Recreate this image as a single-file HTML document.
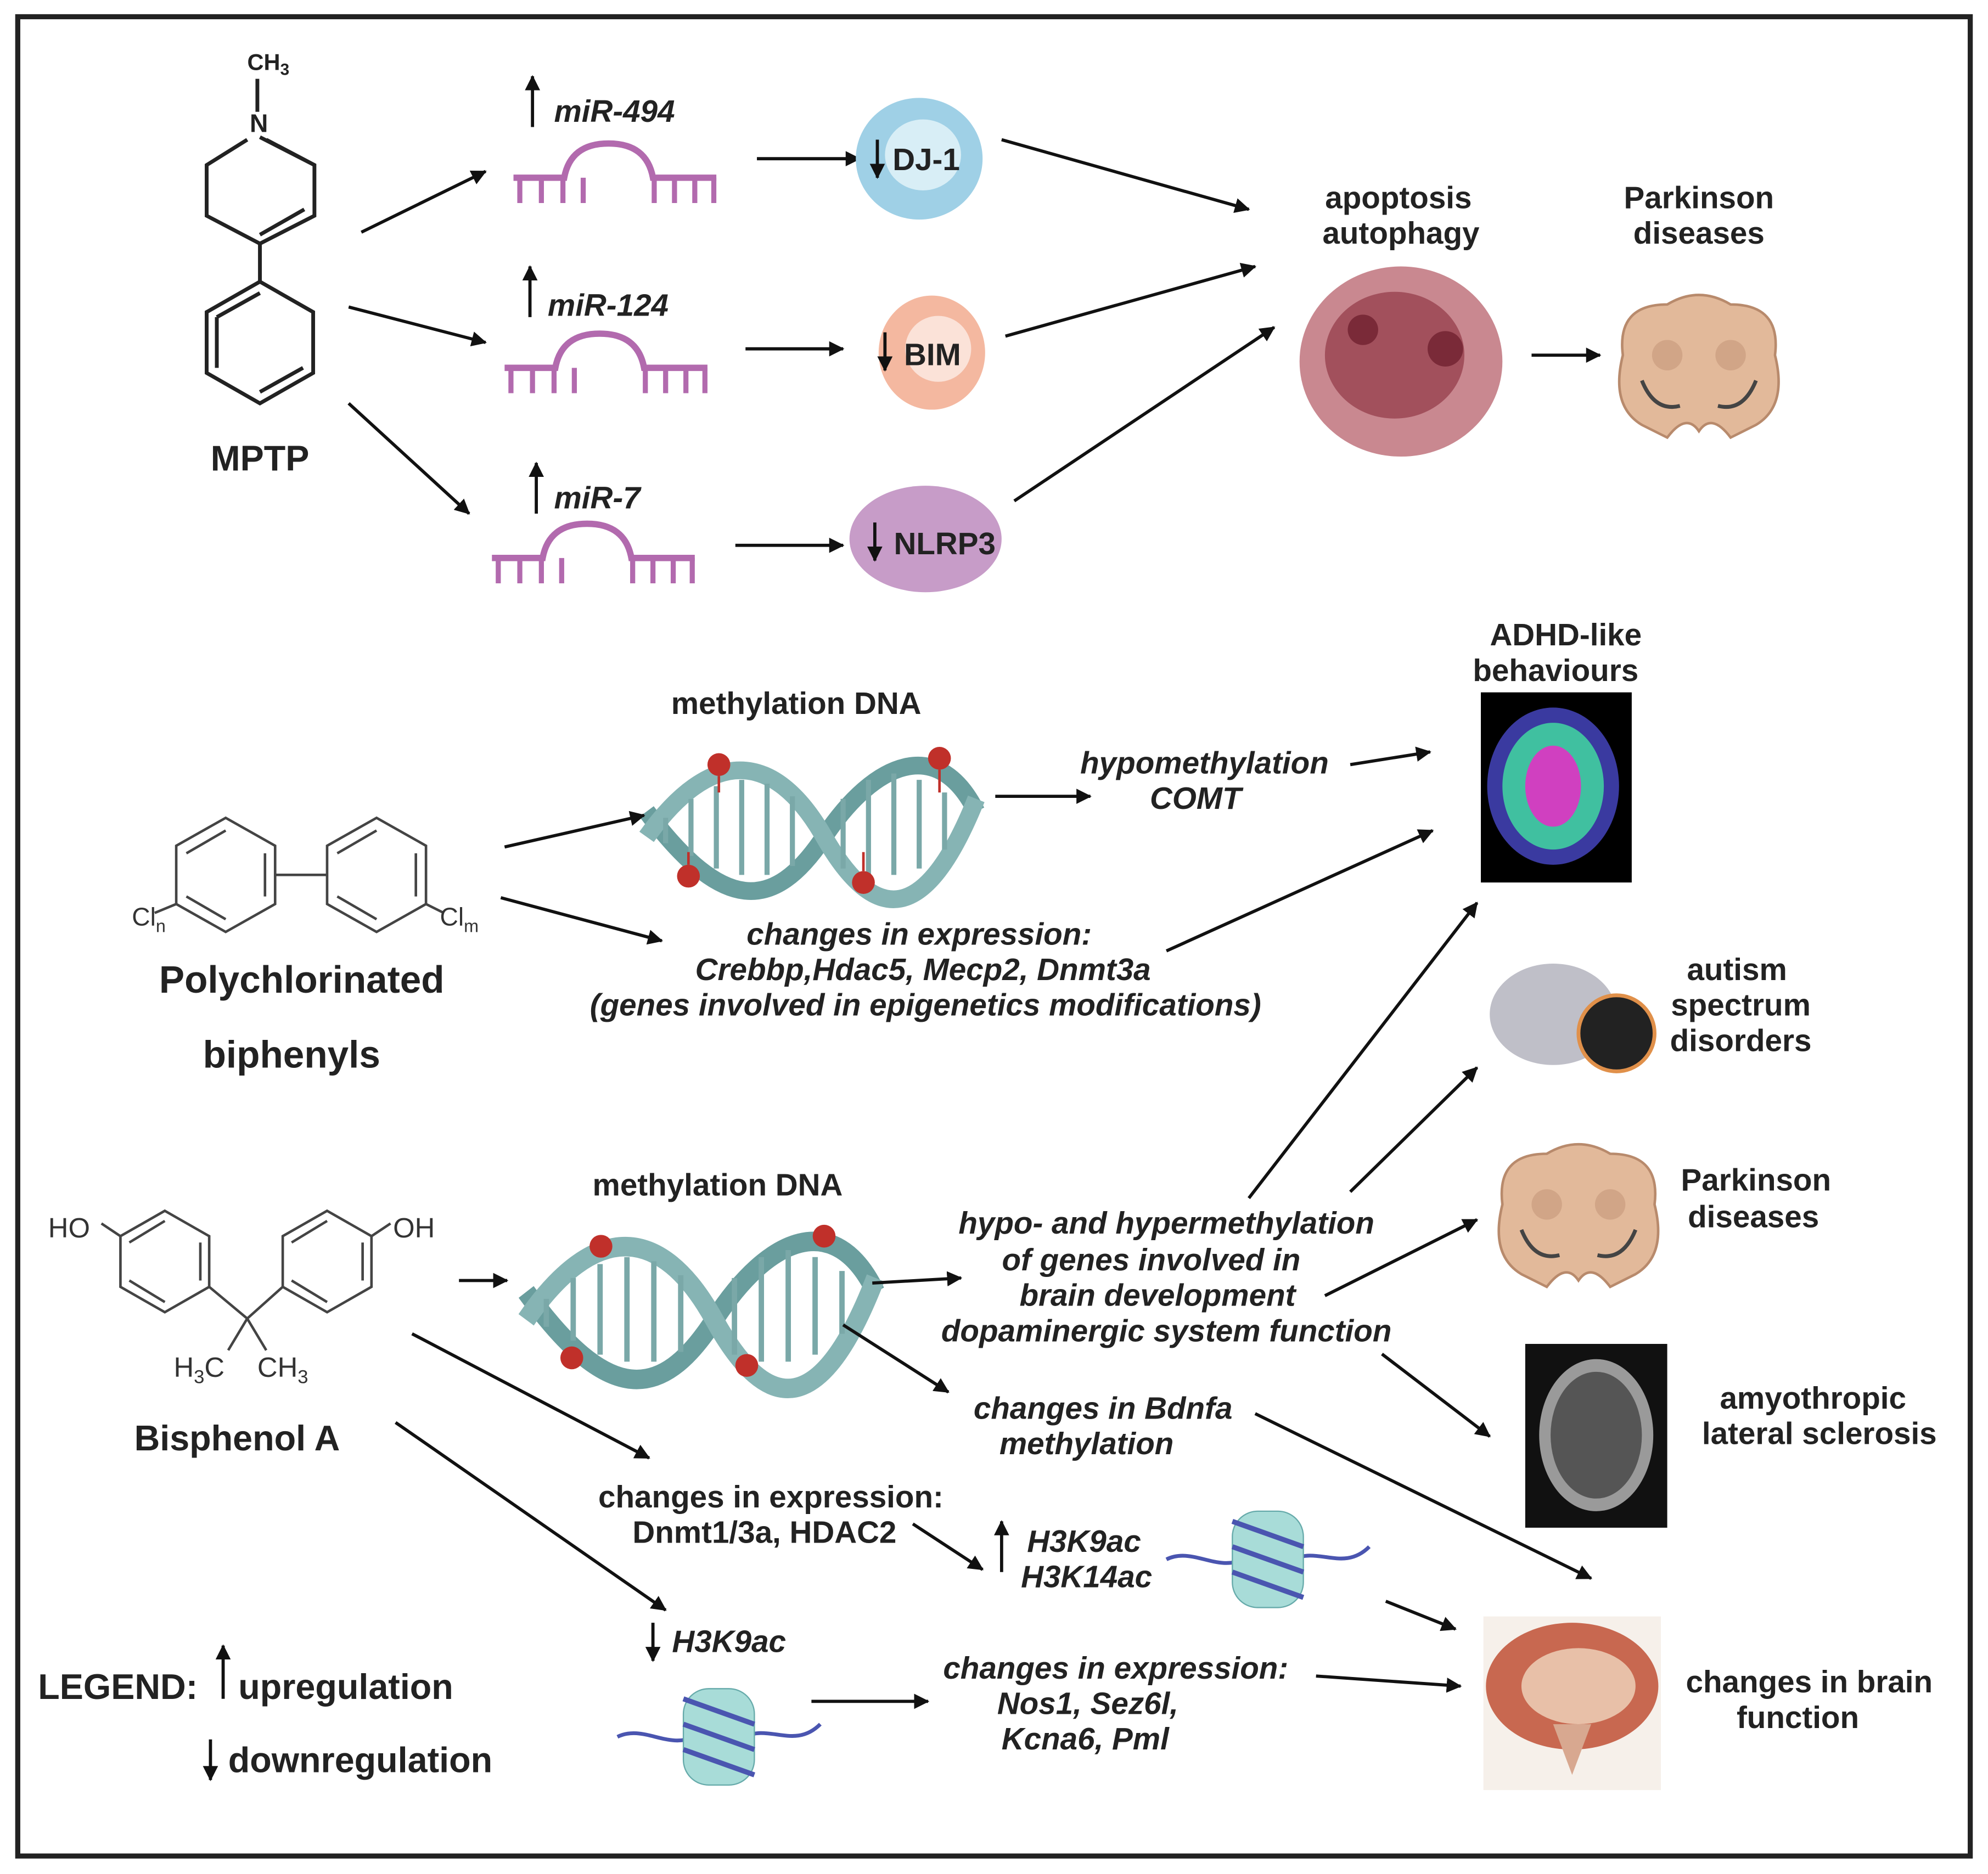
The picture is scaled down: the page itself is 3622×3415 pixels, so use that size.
<!DOCTYPE html>
<html><head><meta charset="utf-8"><style>
html,body{margin:0;padding:0;background:#fff}
svg{display:block}
text{font-family:"Liberation Sans",Arial,sans-serif;font-weight:bold;fill:#222}
.b{font-size:24.5px}.i{font-style:italic}
.big{font-size:28px}
</style></head><body>
<svg width="3622" height="3415" viewBox="0 0 1568 1478" xmlns="http://www.w3.org/2000/svg">
<defs>
<marker id="ah" markerWidth="12" markerHeight="12" refX="11" refY="6" orient="auto" markerUnits="userSpaceOnUse" viewBox="0 0 12 12">
<path d="M0,0 L12,6 L0,12 z" fill="#111"/></marker>
<g id="mir" stroke="#b26aae" fill="none" stroke-width="5">
<path d="M0,27 H40 Q45,0 75,0 Q105,0 110,27 H160"/>
<path d="M5,27v20M22,27v20M39,27v20M55,27v20M111,27v20M127,27v20M143,27v20M158,27v20" stroke-width="4"/>
</g>
<g id="dna">
<path d="M0,40 C60,120 100,120 140,60 S230,-20 260,40" stroke="#6a9e9e" stroke-width="14" fill="none"/>
<path d="M0,60 C50,-10 100,-10 140,60 S220,130 260,30" stroke="#86b4b4" stroke-width="14" fill="none"/>
<path d="M15,45v20M35,30v45M55,20v65M75,15v75M95,18v72M115,28v55M155,30v55M175,15v75M195,10v80M215,15v70M235,25v45" stroke="#7aa8a8" stroke-width="4"/>
</g>
<g id="stem">
<path d="M-60,-10 Q-65,-50 -25,-50 Q0,-65 25,-50 Q65,-50 60,-10 Q70,30 45,45 L25,55 Q10,35 0,50 Q-10,35 -25,55 L-45,45 Q-70,30 -60,-10z" fill="#e2b99a" stroke="#b88a6c" stroke-width="2"/>
<circle cx="-25" cy="-10" r="12" fill="#d1a587"/><circle cx="25" cy="-10" r="12" fill="#d1a587"/>
<path d="M-45,10 Q-35,35 -15,30 M45,10 Q35,35 15,30" stroke="#444" stroke-width="3" fill="none"/>
</g>
<g id="nuc">
<path d="M-80,0 C-60,-10 -40,10 -20,0 M20,0 C40,-10 60,10 80,-10" stroke="#4a55b0" stroke-width="3" fill="none"/>
<rect x="-28" y="-38" width="56" height="76" rx="20" fill="#a8dcd8" stroke="#6aa" />
<path d="M-28,-30 L28,-10 M-28,-10 L28,10 M-28,10 L28,30" stroke="#4a55b0" stroke-width="4"/>
</g>
</defs>
<rect x="14" y="13" width="1540" height="1451" fill="none" stroke="#222" stroke-width="4"/>

<!-- MPTP -->
<g stroke="#222" stroke-width="3" fill="none">
<path d="M203,62V88 M205,108 L248,130 L248,170 L205,192 L163,170 L163,130 L195,110 M210,110 L248,130 M240,165 L205,185"/>
<path d="M205,192V222 M205,222 L247,246 L247,294 L205,318 L163,294 L163,246 Z M171,250 L205,231 M239,290 L205,309 M171,290 L171,250"/>
</g>
<text x="195" y="55" style="font-size:18px">CH<tspan font-size="13" dy="4">3</tspan></text>
<text x="197" y="104" style="font-size:20px">N</text>
<text x="205" y="371" class="big" text-anchor="middle">MPTP</text>
<g stroke="#111" stroke-width="2.5" marker-end="url(#ah)">
<line x1="285" y1="183" x2="383" y2="135"/><line x1="275" y1="242" x2="383" y2="270"/><line x1="275" y1="318" x2="370" y2="405"/>
<line x1="597" y1="125" x2="678" y2="125"/><line x1="588" y1="275" x2="665" y2="275"/><line x1="580" y1="430" x2="665" y2="430"/>
<line x1="790" y1="110" x2="985" y2="165"/><line x1="793" y1="265" x2="990" y2="210"/><line x1="800" y1="395" x2="1005" y2="258"/>
<line x1="1208" y1="280" x2="1262" y2="280"/>
<line x1="420" y1="100" x2="420" y2="60"/><line x1="418" y1="250" x2="418" y2="210"/><line x1="423" y1="405" x2="423" y2="365"/>
</g>
<text x="437" y="96" class="b i">miR-494</text>
<text x="432" y="249" class="b i">miR-124</text>
<text x="437" y="401" class="b i">miR-7</text>
<use href="#mir" x="405" y="113"/><use href="#mir" x="398" y="263"/><use href="#mir" x="388" y="413"/>
<ellipse cx="725" cy="125" rx="50" ry="48" fill="#9fd0e6"/><ellipse cx="728" cy="122" rx="30" ry="28" fill="#d8eef6"/>
<ellipse cx="735" cy="278" rx="42" ry="45" fill="#f4b8a0"/><ellipse cx="740" cy="275" rx="26" ry="26" fill="#fbe2d8"/>
<ellipse cx="730" cy="425" rx="60" ry="42" fill="#c79cc8"/>
<g stroke="#111" stroke-width="2.5" marker-end="url(#ah)">
<line x1="692" y1="110" x2="692" y2="140"/><line x1="698" y1="262" x2="698" y2="292"/><line x1="690" y1="412" x2="690" y2="442"/></g>
<text x="704" y="134" class="b">DJ-1</text><text x="713" y="288" class="b">BIM</text><text x="705" y="437" class="b">NLRP3</text>
<text x="1103" y="164" class="b" text-anchor="middle">apoptosis</text><text x="1105" y="192" class="b" text-anchor="middle">autophagy</text>
<ellipse cx="1105" cy="285" rx="80" ry="75" fill="#c98890"/><ellipse cx="1100" cy="280" rx="55" ry="50" fill="#a2505c"/>
<circle cx="1075" cy="260" r="12" fill="#7a2a38"/><circle cx="1140" cy="275" r="14" fill="#7a2a38"/>
<text x="1340" y="164" class="b" text-anchor="middle">Parkinson</text><text x="1340" y="192" class="b" text-anchor="middle">diseases</text>
<use href="#stem" x="1340" y="290"/>

<!-- PCB -->
<text x="628" y="563" class="b" text-anchor="middle">methylation DNA</text>
<use href="#dna" x="510" y="600"/>
<g fill="#c0302a"><circle cx="567" cy="603" r="9"/><circle cx="741" cy="598" r="9"/><circle cx="543" cy="691" r="9"/><circle cx="681" cy="696" r="9"/></g>
<g stroke="#c0302a" stroke-width="2"><line x1="567" y1="612" x2="567" y2="625"/><line x1="741" y1="607" x2="741" y2="625"/><line x1="543" y1="682" x2="543" y2="672"/><line x1="681" y1="687" x2="681" y2="672"/></g>
<g stroke="#444" stroke-width="2" fill="none">
<path d="M178,645 L217,667 L217,713 L178,735 L139,713 L139,667 Z M297,645 L336,667 L336,713 L297,735 L258,713 L258,667 Z M217,690 H258"/>
<path d="M147,673 L178,655 M147,707 L178,725 M209,707 L209,673 M266,673 L297,655 M266,707 L297,725 M328,707 L328,673"/>
<path d="M139,713 L122,720 M336,713 L350,720"/>
</g>
<text x="104" y="730" style="font-size:20px;font-weight:normal;fill:#333">Cl<tspan font-size="14" dy="5">n</tspan></text>
<text x="347" y="730" style="font-size:20px;font-weight:normal;fill:#333">Cl<tspan font-size="14" dy="5">m</tspan></text>
<text x="238" y="783" class="big" text-anchor="middle" style="font-size:30px">Polychlorinated</text>
<text x="230" y="842" class="big" text-anchor="middle" style="font-size:30px">biphenyls</text>
<g stroke="#111" stroke-width="2.5" marker-end="url(#ah)">
<line x1="398" y1="668" x2="508" y2="643"/><line x1="395" y1="708" x2="522" y2="742"/>
<line x1="785" y1="628" x2="860" y2="628"/><line x1="1065" y1="603" x2="1128" y2="593"/><line x1="920" y1="750" x2="1130" y2="655"/>
</g>
<text x="950" y="610" class="b i" text-anchor="middle">hypomethylation</text><text x="943" y="638" class="b i" text-anchor="middle">COMT</text>
<text x="725" y="745" class="b i" text-anchor="middle">changes in expression:</text>
<text x="728" y="773" class="b i" text-anchor="middle">Crebbp,Hdac5, Mecp2, Dnmt3a</text>
<text x="730" y="801" class="b i" text-anchor="middle">(genes involved in epigenetics modifications)</text>
<text x="1235" y="509" class="b" text-anchor="middle">ADHD-like</text><text x="1227" y="537" class="b" text-anchor="middle">behaviours</text>
<rect x="1168" y="546" width="119" height="150" fill="#000"/>
<ellipse cx="1225" cy="620" rx="52" ry="62" fill="#3a3aa0"/><ellipse cx="1225" cy="620" rx="40" ry="50" fill="#40c0a0"/><ellipse cx="1225" cy="620" rx="22" ry="32" fill="#d040c0"/>
<ellipse cx="1225" cy="800" rx="50" ry="40" fill="#bfbfc8"/><circle cx="1275" cy="815" r="30" fill="#222" stroke="#e0904a" stroke-width="3"/>
<text x="1370" y="773" class="b" text-anchor="middle">autism</text><text x="1373" y="801" class="b" text-anchor="middle">spectrum</text><text x="1373" y="829" class="b" text-anchor="middle">disorders</text>
<text x="1385" y="939" class="b" text-anchor="middle">Parkinson</text><text x="1383" y="968" class="b" text-anchor="middle">diseases</text>
<use href="#stem" x="1245" y="960"/>
<rect x="1203" y="1060" width="112" height="145" fill="#111"/>
<ellipse cx="1259" cy="1132" rx="45" ry="60" fill="#9a9a9a"/><ellipse cx="1259" cy="1132" rx="36" ry="50" fill="#555"/>
<text x="1430" y="1111" class="b" text-anchor="middle">amyothropic</text><text x="1435" y="1139" class="b" text-anchor="middle">lateral sclerosis</text>
<rect x="1170" y="1275" width="140" height="137" fill="#f6f0ea"/>
<ellipse cx="1240" cy="1330" rx="68" ry="50" fill="#c86850"/><ellipse cx="1245" cy="1330" rx="45" ry="30" fill="#e8c0a8"/>
<path d="M1225,1360 L1240,1400 L1255,1360z" fill="#d8a890"/>
<text x="1427" y="1335" class="b" text-anchor="middle">changes in brain</text><text x="1418" y="1363" class="b" text-anchor="middle">function</text>

<!-- BPA -->
<g stroke="#444" stroke-width="2" fill="none">
<path d="M130,955 L165,975 L165,1015 L130,1035 L95,1015 L95,975 Z M258,955 L293,975 L293,1015 L258,1035 L223,1015 L223,975 Z"/>
<path d="M102,980 L130,963 M102,1010 L130,1027 M158,1010 L158,980 M230,980 L258,963 M230,1010 L258,1027 M286,1010 L286,980"/>
<path d="M80,965 L95,975 M293,975 L308,965 M165,1015 L195,1040 L223,1015 M195,1040 L180,1065 M195,1040 L210,1065"/>
</g>
<text x="38" y="976" style="font-size:22px;font-weight:normal;fill:#333">HO</text>
<text x="310" y="976" style="font-size:22px;font-weight:normal;fill:#333">OH</text>
<text x="137" y="1086" style="font-size:22px;font-weight:normal;fill:#333">H<tspan font-size="15" dy="5">3</tspan><tspan dy="-5">C</tspan></text>
<text x="203" y="1086" style="font-size:22px;font-weight:normal;fill:#333">CH<tspan font-size="15" dy="5">3</tspan></text>
<text x="187" y="1144" class="big" text-anchor="middle">Bisphenol A</text>
<text x="566" y="943" class="b" text-anchor="middle">methylation DNA</text>
<use href="#dna" x="415" y="975" transform="translate(415,975) scale(1.06,1.1) translate(-415,-975)"/>
<g fill="#c0302a"><circle cx="474" cy="983" r="9"/><circle cx="650" cy="975" r="9"/><circle cx="451" cy="1071" r="9"/><circle cx="589" cy="1077" r="9"/></g>
<g stroke="#111" stroke-width="2.5" marker-end="url(#ah)">
<line x1="362" y1="1010" x2="400" y2="1010"/><line x1="688" y1="1012" x2="758" y2="1008"/>
<line x1="985" y1="945" x2="1165" y2="712"/><line x1="1065" y1="940" x2="1165" y2="842"/><line x1="1045" y1="1022" x2="1165" y2="962"/><line x1="1090" y1="1068" x2="1175" y2="1133"/>
<line x1="665" y1="1045" x2="748" y2="1098"/><line x1="990" y1="1115" x2="1255" y2="1245"/>
<line x1="325" y1="1052" x2="512" y2="1150"/><line x1="720" y1="1202" x2="775" y2="1238"/>
<line x1="1093" y1="1263" x2="1148" y2="1285"/><line x1="312" y1="1122" x2="525" y2="1270"/>
<line x1="640" y1="1342" x2="732" y2="1342"/><line x1="1038" y1="1322" x2="1152" y2="1330"/>
<line x1="790" y1="1240" x2="790" y2="1200"/><line x1="515" y1="1280" x2="515" y2="1310"/>
<line x1="176" y1="1340" x2="176" y2="1298"/><line x1="166" y1="1372" x2="166" y2="1404"/>
</g>
<text x="920" y="973" class="b i" text-anchor="middle">hypo- and hypermethylation</text>
<text x="908" y="1002" class="b i" text-anchor="middle">of genes involved in</text>
<text x="913" y="1030" class="b i" text-anchor="middle">brain development</text>
<text x="920" y="1058" class="b i" text-anchor="middle">dopaminergic system function</text>
<text x="870" y="1119" class="b i" text-anchor="middle">changes in Bdnfa</text><text x="857" y="1147" class="b i" text-anchor="middle">methylation</text>
<text x="608" y="1189" class="b" text-anchor="middle">changes in expression:</text><text x="603" y="1217" class="b" text-anchor="middle">Dnmt1/3a, HDAC2</text>
<text x="855" y="1224" class="b i" text-anchor="middle">H3K9ac</text><text x="857" y="1252" class="b i" text-anchor="middle">H3K14ac</text>
<use href="#nuc" x="1000" y="1230"/>
<text x="575" y="1303" class="b i" text-anchor="middle">H3K9ac</text>
<use href="#nuc" x="567" y="1370"/>
<text x="880" y="1324" class="b i" text-anchor="middle">changes in expression:</text>
<text x="858" y="1352" class="b i" text-anchor="middle">Nos1, Sez6l,</text>
<text x="856" y="1380" class="b i" text-anchor="middle">Kcna6, Pml</text>
<text x="30" y="1340" class="big">LEGEND:</text>
<text x="188" y="1340" class="big">upregulation</text>
<text x="180" y="1398" class="big">downregulation</text>
</svg>
</body></html>
